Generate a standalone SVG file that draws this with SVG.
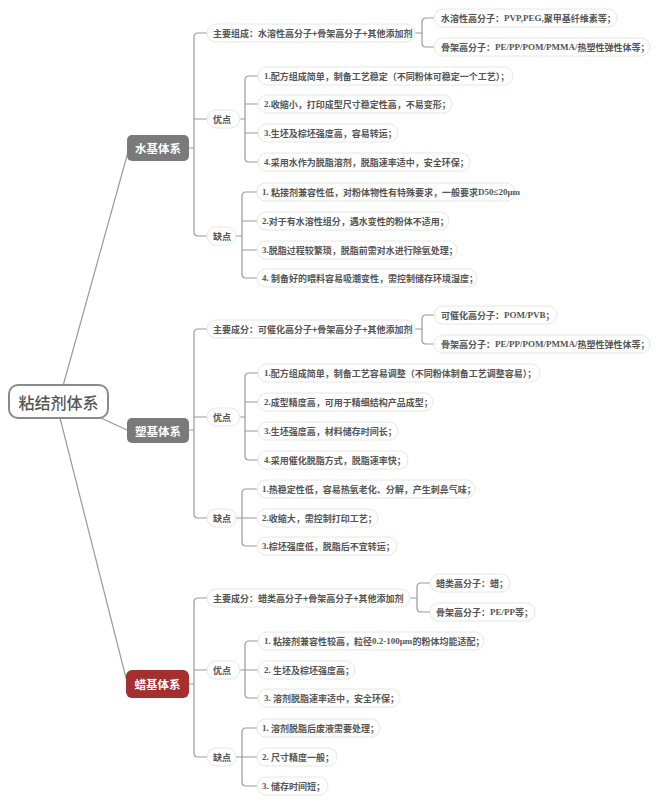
<svg xmlns="http://www.w3.org/2000/svg" width="660" height="804" viewBox="0 0 660 804">
<style>
.bg{fill:#ffffff}
.pill{fill:#ffffff;stroke:#e6e6e6;stroke-width:1}
.t{font-family:"Noto Sans CJK SC","Noto Sans",sans-serif;font-size:9px;font-weight:bold;fill:#555555;dominant-baseline:central}
.lat{font-family:"Liberation Serif",serif;font-weight:bold}
.sys{font-family:"Noto Sans CJK SC","Noto Sans",sans-serif;font-size:11.5px;font-weight:bold;fill:#ffffff;text-anchor:middle;dominant-baseline:central}
.root{font-family:"Noto Sans CJK SC","Noto Sans",sans-serif;font-size:16px;font-weight:500;fill:#555555;text-anchor:middle;dominant-baseline:central}
.c{fill:none;stroke:#9a9a9a;stroke-width:1.2;stroke-linecap:round}
</style>
<rect class="bg" x="0" y="0" width="660" height="804"/>
<g id="connectors">
<path class="c" d="M63 386 L128 152"/>
<path class="c" d="M101 418 L127 430"/>
<path class="c" d="M60 418 L126 678"/>
<!-- water -->
<path class="c" d="M189 148 H194 M207 33 H198 Q194 33 194 37 V232 Q194 236 198 236 H207 M194 119 H207"/>
<path class="c" d="M415 33 H422 M434 18 H426 Q422 18 422 22 V43 Q422 47 426 47 H434"/>
<path class="c" d="M240 119 H245 M258 76 H249 Q245 76 245 80 V158 Q245 162 249 162 H258 M245 104 H258 M245 133 H258"/>
<path class="c" d="M236 236 H242 M257 192 H246 Q242 192 242 196 V274 Q242 278 246 278 H257 M242 221 H257 M242 250 H257"/>
<!-- plastic -->
<path class="c" d="M189 430 H194 M207 329 H198 Q194 329 194 333 V514 Q194 518 198 518 H207 M194 417 H207"/>
<path class="c" d="M415 329 H422 M434 315 H426 Q422 315 422 319 V340 Q422 344 426 344 H434"/>
<path class="c" d="M240 417 H245 M258 373 H249 Q245 373 245 377 V456 Q245 460 249 460 H258 M245 402 H258 M245 431 H258"/>
<path class="c" d="M236 518 H242 M257 489 H246 Q242 489 242 493 V542 Q242 546 246 546 H257 M242 518 H257"/>
<!-- wax -->
<path class="c" d="M189 684 H194 M207 598 H198 Q194 598 194 602 V753 Q194 757 198 757 H207 M194 670 H207"/>
<path class="c" d="M410 598 H417 M430 583 H421 Q417 583 417 587 V608 Q417 612 421 612 H430"/>
<path class="c" d="M240 670 H245 M258 641 H249 Q245 641 245 645 V694 Q245 698 249 698 H258 M245 670 H258"/>
<path class="c" d="M236 757 H242 M257 728 H246 Q242 728 242 732 V782 Q242 786 246 786 H257 M242 757 H257"/>
</g>
<g id="root">
<rect x="9" y="385" width="99" height="33" rx="9" fill="#ffffff" stroke="#8a8a8a" stroke-width="2"/>
<text class="root" x="58.5" y="402">粘结剂体系</text>
</g>
<!-- WATER -->
<g id="water">
<rect x="127" y="135" width="62" height="26" rx="5" fill="#7a7a7a"/>
<text class="sys" x="158" y="148">水基体系</text>
</g>
<g id="water-main"><rect class="pill" x="207" y="24" width="208" height="18" rx="9"/><text class="t" x="213" y="33">主要组成：水溶性高分子+骨架高分子+其他添加剂</text></g>
<g id="water-main-1"><rect class="pill" x="434" y="9" width="183" height="18" rx="9"/><text class="t" x="441" y="18">水溶性高分子：<tspan class="lat">PVP,PEG,</tspan>聚甲基纤维素等；</text></g>
<g id="water-main-2"><rect class="pill" x="434" y="38" width="216" height="18" rx="9"/><text class="t" x="441" y="47">骨架高分子：<tspan class="lat">PE/PP/POM/PMMA/</tspan>热塑性弹性体等；</text></g>
<g id="water-adv"><rect class="pill" x="207" y="110" width="33" height="18" rx="9"/><text class="t" x="213" y="119">优点</text></g>
<g id="water-adv-1"><rect class="pill" x="258" y="67" width="255" height="18" rx="9"/><text class="t" x="264" y="76"><tspan class="lat">1.</tspan>配方组成简单，制备工艺稳定（不同粉体可稳定一个工艺）；</text></g>
<g id="water-adv-2"><rect class="pill" x="258" y="95" width="194" height="18" rx="9"/><text class="t" x="264" y="104"><tspan class="lat">2.</tspan>收缩小，打印成型尺寸稳定性高，不易变形；</text></g>
<g id="water-adv-3"><rect class="pill" x="258" y="124" width="140" height="18" rx="9"/><text class="t" x="264" y="133"><tspan class="lat">3.</tspan>生坯及棕坯强度高，容易转运；</text></g>
<g id="water-adv-4"><rect class="pill" x="258" y="153" width="212" height="18" rx="9"/><text class="t" x="264" y="162"><tspan class="lat">4.</tspan>采用水作为脱脂溶剂，脱脂速率适中，安全环保；</text></g>
<g id="water-dis"><rect class="pill" x="207" y="227" width="29" height="18" rx="9"/><text class="t" x="213" y="236">缺点</text></g>
<g id="water-dis-1"><rect class="pill" x="257" y="183" width="258" height="18" rx="9"/><text class="t" x="262" y="192"><tspan class="lat">1. </tspan>粘接剂兼容性低，对粉体物性有特殊要求，一般要求<tspan class="lat">D50≤20μm</tspan></text></g>
<g id="water-dis-2"><rect class="pill" x="257" y="212" width="192" height="18" rx="9"/><text class="t" x="262" y="221"><tspan class="lat">2.</tspan>对于有水溶性组分，遇水变性的粉体不适用；</text></g>
<g id="water-dis-3"><rect class="pill" x="257" y="241" width="200" height="18" rx="9"/><text class="t" x="262" y="250"><tspan class="lat">3.</tspan>脱脂过程较繁琐，脱脂前需对水进行除氧处理；</text></g>
<g id="water-dis-4"><rect class="pill" x="257" y="269" width="220" height="18" rx="9"/><text class="t" x="262" y="278"><tspan class="lat">4. </tspan>制备好的喂料容易吸潮变性，需控制储存环境湿度；</text></g>
<!-- PLASTIC -->
<g id="plastic">
<rect x="127" y="418" width="62" height="25" rx="5" fill="#7a7a7a"/>
<text class="sys" x="158" y="430.5">塑基体系</text>
</g>
<g id="plastic-main"><rect class="pill" x="207" y="320" width="208" height="18" rx="9"/><text class="t" x="213" y="329">主要成分：可催化高分子+骨架高分子+其他添加剂</text></g>
<g id="plastic-main-1"><rect class="pill" x="434" y="306" width="123" height="18" rx="9"/><text class="t" x="441" y="315">可催化高分子：<tspan class="lat">POM/PVB</tspan>；</text></g>
<g id="plastic-main-2"><rect class="pill" x="434" y="335" width="216" height="18" rx="9"/><text class="t" x="441" y="344">骨架高分子：<tspan class="lat">PE/PP/POM/PMMA/</tspan>热塑性弹性体等；</text></g>
<g id="plastic-adv"><rect class="pill" x="207" y="408" width="33" height="18" rx="9"/><text class="t" x="213" y="417">优点</text></g>
<g id="plastic-adv-1"><rect class="pill" x="258" y="364" width="282" height="18" rx="9"/><text class="t" x="264" y="373"><tspan class="lat">1.</tspan>配方组成简单，制备工艺容易调整（不同粉体制备工艺调整容易）；</text></g>
<g id="plastic-adv-2"><rect class="pill" x="258" y="393" width="175" height="18" rx="9"/><text class="t" x="264" y="402"><tspan class="lat">2.</tspan>成型精度高，可用于精细结构产品成型；</text></g>
<g id="plastic-adv-3"><rect class="pill" x="258" y="422" width="140" height="18" rx="9"/><text class="t" x="264" y="431"><tspan class="lat">3.</tspan>生坯强度高，材料储存时间长；</text></g>
<g id="plastic-adv-4"><rect class="pill" x="258" y="451" width="150" height="18" rx="9"/><text class="t" x="264" y="460"><tspan class="lat">4.</tspan>采用催化脱脂方式，脱脂速率快；</text></g>
<g id="plastic-dis"><rect class="pill" x="207" y="509" width="29" height="18" rx="9"/><text class="t" x="213" y="518">缺点</text></g>
<g id="plastic-dis-1"><rect class="pill" x="257" y="480" width="218" height="18" rx="9"/><text class="t" x="262" y="489"><tspan class="lat">1.</tspan>热稳定性低，容易热氧老化、分解，产生刺鼻气味；</text></g>
<g id="plastic-dis-2"><rect class="pill" x="257" y="509" width="121" height="18" rx="9"/><text class="t" x="262" y="518"><tspan class="lat">2.</tspan>收缩大，需控制打印工艺；</text></g>
<g id="plastic-dis-3"><rect class="pill" x="257" y="537" width="140" height="18" rx="9"/><text class="t" x="262" y="546"><tspan class="lat">3.</tspan>棕坯强度低，脱脂后不宜转运；</text></g>
<!-- WAX -->
<g id="wax">
<rect x="126" y="670" width="63" height="28" rx="6" fill="#a3302f"/>
<text class="sys" x="157.5" y="684">蜡基体系</text>
</g>
<g id="wax-main"><rect class="pill" x="207" y="589" width="203" height="18" rx="9"/><text class="t" x="213" y="598">主要成分：蜡类高分子+骨架高分子+其他添加剂</text></g>
<g id="wax-main-1"><rect class="pill" x="430" y="574" width="80" height="18" rx="9"/><text class="t" x="436" y="583">蜡类高分子：蜡；</text></g>
<g id="wax-main-2"><rect class="pill" x="430" y="603" width="105" height="18" rx="9"/><text class="t" x="436" y="612">骨架高分子：<tspan class="lat">PE/PP</tspan>等；</text></g>
<g id="wax-adv"><rect class="pill" x="207" y="661" width="33" height="18" rx="9"/><text class="t" x="213" y="670">优点</text></g>
<g id="wax-adv-1"><rect class="pill" x="258" y="632" width="226" height="18" rx="9"/><text class="t" x="264" y="641"><tspan class="lat">1. </tspan>粘接剂兼容性较高，粒径<tspan class="lat">0.2-100μm</tspan>的粉体均能适配；</text></g>
<g id="wax-adv-2"><rect class="pill" x="258" y="661" width="97" height="18" rx="9"/><text class="t" x="264" y="670"><tspan class="lat">2. </tspan>生坯及棕坯强度高；</text></g>
<g id="wax-adv-3"><rect class="pill" x="258" y="689" width="142" height="18" rx="9"/><text class="t" x="264" y="698"><tspan class="lat">3. </tspan>溶剂脱脂速率适中，安全环保；</text></g>
<g id="wax-dis"><rect class="pill" x="207" y="748" width="29" height="18" rx="9"/><text class="t" x="213" y="757">缺点</text></g>
<g id="wax-dis-1"><rect class="pill" x="257" y="719" width="123" height="18" rx="9"/><text class="t" x="262" y="728"><tspan class="lat">1. </tspan>溶剂脱脂后废液需要处理；</text></g>
<g id="wax-dis-2"><rect class="pill" x="257" y="748" width="80" height="18" rx="9"/><text class="t" x="262" y="757"><tspan class="lat">2. </tspan>尺寸精度一般；</text></g>
<g id="wax-dis-3"><rect class="pill" x="257" y="777" width="71" height="18" rx="9"/><text class="t" x="262" y="786"><tspan class="lat">3. </tspan>储存时间短；</text></g>
</svg>
